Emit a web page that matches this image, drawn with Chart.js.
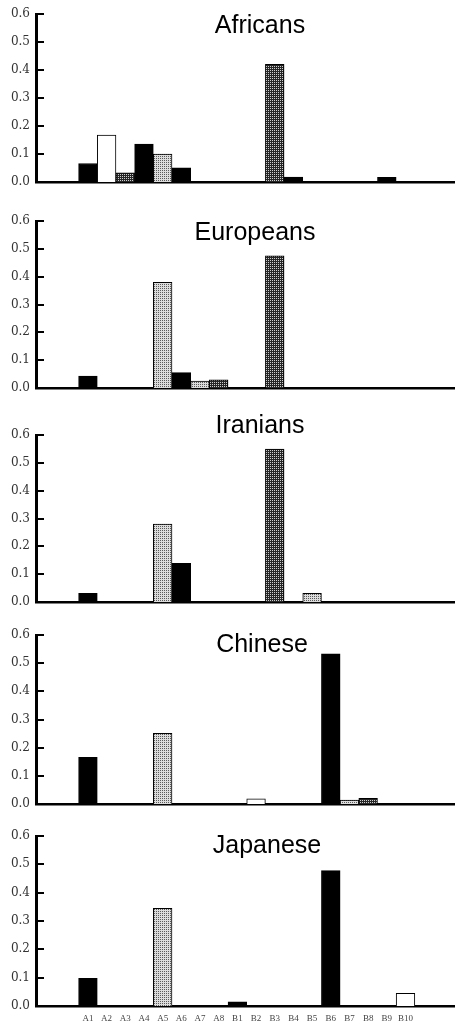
<!DOCTYPE html>
<html><head><meta charset="utf-8">
<script src="https://cdn.jsdelivr.net/npm/chart.js@4.4.1/dist/chart.umd.min.js"></script>
<style>
html,body{margin:0;padding:0;background:#fff;}
.p{position:absolute;left:0;width:455px;}
</style></head><body>
<div id="wrap"></div>
<script>
// ---- data ----
const categories = ['A1','A2','A3','A4','A5','A6','A7','A8','B1','B2','B3','B4','B5','B6','B7','B8','B9','B10'];
const yTicks = [0.0, 0.1, 0.2, 0.3, 0.4, 0.5, 0.6];
const panelTitles = ['Africans', 'Europeans', 'Iranians', 'Chinese', 'Japanese'];
const africans  = [0.066, 0.168, 0.033, 0.135, 0.100, 0.051, 0, 0, 0, 0, 0.420, 0.018, 0, 0, 0, 0, 0.017, 0];
const europeans = [0.043, 0, 0, 0, 0.380, 0.055, 0.025, 0.029, 0, 0, 0.475, 0, 0, 0, 0, 0, 0, 0];
const iranians  = [0.031, 0, 0, 0, 0.280, 0.139, 0, 0, 0, 0, 0.549, 0, 0.031, 0, 0, 0, 0, 0];
const chinese   = [0.166, 0, 0, 0, 0.251, 0, 0, 0, 0, 0.018, 0, 0, 0, 0.533, 0.014, 0.020, 0, 0];
const japanese  = [0.098, 0, 0, 0, 0.345, 0, 0, 0, 0.015, 0, 0, 0, 0, 0.478, 0, 0, 0, 0.045];
const panelValues = [africans, europeans, iranians, chinese, japanese];

// ---- styles / layout ----
const fillKeys = ['black','white','dark','black','light','black','light','dark','black','white','dark','black','light','black','light','dark','black','white'];
const layout = [
  {top: 0,   h: 200, plotTop: 14,  base: 182,  tx: 260, ty: 33},
  {top: 200, h: 210, plotTop: 221, base: 388,  tx: 255, ty: 240},
  {top: 410, h: 202, plotTop: 435, base: 602,  tx: 260, ty: 433},
  {top: 612, h: 203, plotTop: 635, base: 804,  tx: 262, ty: 652},
  {top: 815, h: 210, plotTop: 836, base: 1006, tx: 267, ty: 853}
];

function makePattern(ctx, bg, dot) {
  const c = document.createElement('canvas');
  c.width = 2; c.height = 2;
  const g = c.getContext('2d');
  g.fillStyle = bg; g.fillRect(0, 0, 2, 2);
  g.fillStyle = dot; g.fillRect(0, 0, 1, 1);
  return ctx.createPattern(c, 'repeat');
}

const deco = {
  id: 'deco',
  afterDatasetsDraw(chart, args, opts) {
    const ctx = chart.ctx, y = chart.scales.y, a = chart.chartArea;
    ctx.save();
    ctx.strokeStyle = '#000'; ctx.lineWidth = 2;
    yTicks.forEach(v => {
      if (v === 0) return;
      const py = Math.round(y.getPixelForValue(v));
      ctx.beginPath(); ctx.moveTo(a.left, py); ctx.lineTo(a.left + 8, py); ctx.stroke();
    });
    ctx.fillStyle = '#000';
    ctx.font = '25px "Liberation Sans", Arial, sans-serif';
    ctx.textAlign = 'center'; ctx.textBaseline = 'alphabetic';
    ctx.fillText(opts.title, opts.x, opts.y);
    ctx.restore();
  }
};

const wrap = document.getElementById('wrap');
layout.forEach((L, pi) => {
  const div = document.createElement('div');
  div.className = 'p';
  div.style.top = L.top + 'px';
  div.style.height = L.h + 'px';
  const cv = document.createElement('canvas');
  cv.width = 455; cv.height = L.h;
  cv.style.width = '455px'; cv.style.height = L.h + 'px';
  div.appendChild(cv);
  wrap.appendChild(div);
  const ctx = cv.getContext('2d');
  const fills = {
    black: '#000',
    white: '#fff',
    dark: makePattern(ctx, '#262626', '#cfcfcf'),
    light: makePattern(ctx, '#dcdcdc', '#5a5a5a')
  };
  const isLast = pi === layout.length - 1;
  const bottomH = (L.top + L.h) - L.base;
  new Chart(ctx, {
    type: 'bar',
    data: {
      datasets: [{
        data: panelValues[pi].map((v, i) => ({x: i, y: v})),
        backgroundColor: fillKeys.map(k => fills[k]),
        borderColor: '#000',
        borderWidth: 1,
        barPercentage: 1,
        categoryPercentage: 1
      }]
    },
    options: {
      responsive: false,
      animation: false,
      devicePixelRatio: 1,
      layout: {padding: {top: L.plotTop - L.top, left: 0, right: 0, bottom: 0}},
      plugins: {
        legend: {display: false},
        tooltip: {enabled: false},
        deco: {title: panelTitles[pi], x: L.tx, y: L.ty - L.top}
      },
      scales: {
        x: {
          type: 'linear',
          min: -2.78,
          max: 19.65,
          offset: false,
          z: 1,
          grid: {display: false, drawTicks: false, offset: false},
          border: {display: true, color: '#000', width: 2.5},
          afterBuildTicks: s => { s.ticks = categories.map((c, i) => ({value: i})); },
          ticks: {
            display: isLast,
            autoSkip: false,
            maxRotation: 0,
            padding: 7,
            color: '#444',
            font: {family: '"Liberation Serif", "DejaVu Serif", serif', size: 9},
            callback: v => { const i = Math.round(v); return categories[i] || ''; }
          },
          afterFit: s => { s.height = bottomH; s.paddingLeft = 0; s.paddingRight = 0; }
        },
        y: {
          min: 0, max: 0.6,
          z: 1,
          grid: {display: false, drawTicks: false},
          border: {display: true, color: '#000', width: 3},
          afterBuildTicks: s => { s.ticks = yTicks.map(v => ({value: v})); },
          ticks: {
            padding: 6,
            color: '#333',
            font: {family: '"DejaVu Serif", "Liberation Serif", serif', size: 12},
            callback: v => Number(v).toFixed(1)
          },
          afterFit: s => { s.width = 36; s.paddingTop = 0; s.paddingBottom = 0; }
        }
      }
    },
    plugins: [deco]
  });
});
</script>
</body></html>
